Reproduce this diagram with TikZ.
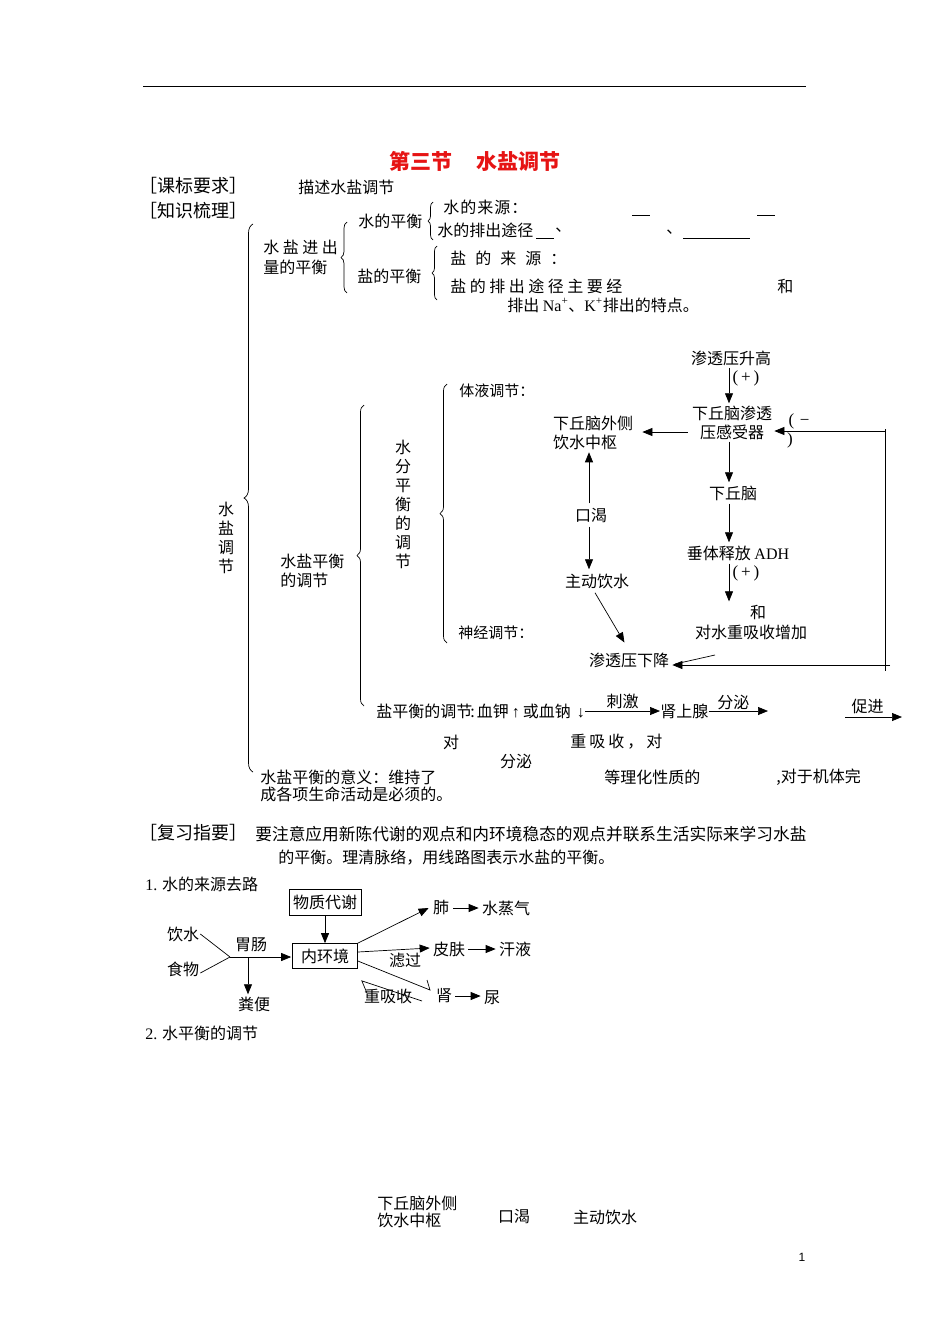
\documentclass[tikz,border=0pt]{standalone}
\usepackage{fontspec}
\setmainfont{Noto Sans CJK SC}
\newfontfamily\tnr{Liberation Serif}
\newfontfamily\lsans{Liberation Sans}
\usetikzlibrary{arrows.meta,decorations.pathreplacing}
\definecolor{titlered}{RGB}{230,20,20}
\newcommand\fsz{\fontsize{16}{19}\selectfont}
\begin{document}
\begin{tikzpicture}[x=1pt,y=-1pt,line width=0.7pt,
  txt/.style={inner sep=0pt,anchor=west,font=\fsz},
  ctr/.style={inner sep=0pt,font=\fsz},
  arr/.style={-{Triangle[length=10pt,width=8pt]}},
  brc/.style={decorate,decoration={brace,amplitude=#1}},
  bx/.style={draw,inner sep=0pt,font=\fsz}]
\fill[white] (0,0) rectangle (950,1344);
\useasboundingbox (0,0) rectangle (950,1344);
\draw[line width=0.8pt] (143,86) -- (806,86);
% title
\node[inner sep=0pt,font=\fontsize{21}{24}\selectfont\bfseries,text=titlered] (title) at (475,161) {第三节\hspace{24pt}水盐调节};
\node[txt,font=\fontsize{18}{20}\selectfont] (kbyq) at (139,186) {［课标要求］};
\node[txt] (msys) at (298,187) {描述水盐调节};
\node[txt,font=\fontsize{18}{20}\selectfont] (zssl) at (139,211) {［知识梳理］};
% big brace
\draw[brc=9pt] (253,772) -- (253,224);
\node[ctr,align=center] (vsltj) at (226,538) {水\\盐\\调\\节};
% water-salt in/out
\node[txt,align=left,font=\fontsize{16}{20}\selectfont] (sljc) at (263,257) {水\kern3.5pt 盐\kern3.5pt 进\kern3.5pt 出\\量的平衡};
\draw[brc=6pt] (347,293) -- (347,222);
\node[txt] (sdph) at (358,221) {水的平衡};
\draw[brc=5pt] (433,240) -- (433,202);
\node[txt] (sdly) at (443,207) {水\kern1pt 的\kern1pt 来\kern1pt 源\kern1pt ：};
\draw (632,215) -- (650,215);
\draw (757,215) -- (775,215);
\node[txt] (sdpc) at (437,230) {水的排出途径};
\draw (536,238) -- (554,238);
\node[txt] (dun1) at (555,230) {、};
\node[txt] (dun2) at (666,232) {、};
\draw (683,238) -- (750,238);
\node[txt] (yph) at (357,276) {盐的平衡};
\draw[brc=5pt] (437,300) -- (437,246);
\node[txt] (ydly) at (450,258) {盐\kern9pt 的\kern9pt 来\kern9pt 源\kern9pt ：};
\node[txt] (ydpc) at (450,286) {盐\kern3.5pt 的\kern3.5pt 排\kern3.5pt 出\kern3.5pt 途\kern3.5pt 径\kern3.5pt 主\kern3.5pt 要\kern3.5pt 经};
\node[txt] (he1) at (777,286) {和};
\node[txt] (pcna) at (507,305) {排出 {\tnr Na\textsuperscript{+}}、{\tnr K\textsuperscript{+}}排出的特点。};
% water-salt balance regulation
\draw[brc=7pt] (364,706) -- (364,405);
\node[txt,align=left] (slphtj) at (280,570.5) {水盐平衡\\的调节};
\node[ctr,align=center] (sfph) at (403,504) {水\\分\\平\\衡\\的\\调\\节};
\draw[brc=7pt] (447,643) -- (447,384);
\node[txt,font=\fontsize{15}{18}\selectfont] (tytj) at (459,391) {体液调节：};
\node[txt,font=\fontsize{15}{18}\selectfont] (sjtj) at (458,633) {神经调节：};
% flow chart
\coordinate (cR) at (729,0);
\coordinate (cL) at (589,0);
\node[ctr,inner sep=2pt] (stsg) at (731,358) {渗透压升高};
\node[ctr,inner sep=2pt,align=center] (sgq) at (732,422.5) {下丘脑渗透\\压感受器};
\node[ctr,inner sep=2pt,align=left] (wcz) at (593,433) {下丘脑外侧\\饮水中枢};
\node[ctr,inner sep=3pt] (xqn) at (733,493) {下丘脑};
\node[ctr,inner sep=3pt] (ctsf) at (738,553) {垂体释放 {\tnr ADH}};
\node[ctr,inner sep=3pt] (he2) at (758,612) {和};
\node[ctr] (dszxs) at (751,632) {对水重吸收增加};
\node[ctr,inner sep=4pt] (kk) at (591,515) {口渴};
\node[ctr,inner sep=4pt] (zdys) at (597,581) {主动饮水};
\node[ctr,inner sep=2pt] (stxj) at (629,660) {渗透压下降};
\node[ctr,font=\tnr\fontsize{17}{18}\selectfont] (p1) at (746,378) {(\,+\,)};
\node[ctr,font=\tnr\fontsize{17}{18}\selectfont] (p2) at (746,573) {(\,+\,)};
\node[ctr,font=\tnr\fontsize{17}{18}\selectfont] (mn1) at (799,421) {(\,\,−};
\node[ctr,font=\tnr\fontsize{17}{18}\selectfont] (mn2) at (790,440) {)};
\draw[arr] (stsg.south -| cR) -- (sgq.north -| cR);
\draw[arr,shorten <=2pt,shorten >=7pt] ([yshift=-9.5pt]sgq.west) -- ([yshift=-9.5pt]sgq.west -| wcz.east);
\draw[arr] (sgq.south -| cR) -- (xqn.north -| cR);
\draw[arr] (xqn.south -| cR) -- (ctsf.north -| cR);
\draw[arr] (ctsf.south -| cR) -- (he2.north -| cR);
\draw[arr] (kk.north -| cL) -- (wcz.south -| cL);
\draw[arr] (kk.south -| cL) -- (zdys.north -| cL);
\draw[arr,shorten >=9pt] ([xshift=-2pt]zdys.south) -- (stxj.north);
\coordinate (fbT) at (885,431);
\coordinate (fbB) at (885,665);
\coordinate (sl) at (715,655);
\coordinate (tipB) at (675,664);
\draw ([yshift=2pt]fbT) -- ([yshift=-6pt]fbB);
\draw[arr] (fbT) -- (fbT -| sgq.east);
\draw[arr,shorten >=1pt] ([xshift=5pt]fbB) -- (fbB -| stxj.east);
\draw (sl) -- (tipB);
% salt regulation
\node[txt] (yph2) at (376,711) {盐平衡的调节{\kern-2pt}:{\kern2pt}血钾{\tnr\kern3pt↑\kern3pt}或血钠{\tnr\kern6pt↓}};
\node[txt] (ssx) at (660,711) {肾上腺};
\coordinate (fe1) at (768,711);
\coordinate (c1) at (845,717);
\coordinate (c2) at (902,717);
\draw[arr] (yph2.east) -- node[midway,above=2pt,ctr]{刺激} (ssx.west);
\draw[arr] (ssx.east) -- node[midway,above=1pt,ctr,xshift=-5pt]{分泌} (fe1);
\draw[arr] (c1) -- node[midway,above=3pt,ctr,xshift=-6pt]{促进} (c2);
\node[ctr] (dui1) at (451,742) {对};
\node[txt] (cxs) at (570,742) {重\kern3pt 吸\kern3pt 收\kern3pt ，\kern3pt 对};
\node[ctr] (fm2) at (516,761) {分泌};
\node[txt] (yy1) at (260,777) {水盐平衡的意义：维持了};
\node[txt] (yy2) at (604,777) {等理化性质的};
\node[txt] (yy3) at (776,777) {,对于机体完};
\node[txt] (yy4) at (260,794) {成各项生命活动是必须的。};
% review
\node[txt,font=\fontsize{18}{20}\selectfont] (fxzy) at (139,833) {［复习指要］};
\node[txt,font=\fontsize{16.7}{19}\selectfont] (fx1) at (255,834) {要注意应用新陈代谢的观点和内环境稳态的观点并联系生活实际来学习水盐};
\node[txt] (fx2) at (278,858) {的平衡。理清脉络，用线路图表示水盐的平衡。};
\node[txt] (s1) at (145,884) {{\tnr 1.} 水的来源去路};
% diagram 1
\node[bx,minimum width=72pt,minimum height=26pt] (wzdx) at (325,902) {物质代谢};
\node[bx,minimum width=65pt,minimum height=25pt] (nhj) at (325,956) {内环境};
\node[ctr,inner sep=1pt] (ys) at (183,934) {饮水};
\node[ctr,inner sep=1pt] (sw) at (183,969) {食物};
\coordinate (jn) at (230,957);
\coordinate (jn2) at (248,957);
\node[ctr] (wc) at (251,945) {胃肠};
\node[ctr,inner sep=2pt] (fb) at (254,1004) {粪便};
\node[ctr,inner sep=4pt] (fei) at (441,908) {肺};
\node[ctr,inner sep=3pt] (szq) at (506,908) {水蒸气};
\node[ctr,inner sep=3pt] (pf) at (449,949) {皮肤};
\node[ctr,inner sep=3pt] (hy) at (515,949) {汗液};
\node[ctr] (lg) at (405,960) {滤过};
\node[ctr,inner sep=3pt] (shen) at (444,996) {肾};
\node[ctr,inner sep=3pt] (niao) at (492,998) {尿};
\node[ctr] (cxs2) at (388,996) {重吸收};
\draw[arr] (wzdx.south) -- (nhj.north);
\draw (ys.east) -- (jn);
\draw ([yshift=-4pt]sw.east) -- (jn);
\draw[arr,shorten >=1pt] (jn) -- (nhj.west |- jn);
\draw[arr] (jn2) -- (jn2 |- fb.north);
\draw[arr] (nhj.north east) -- (fei.west);
\draw[arr] (fei.east) -- (szq.west);
\draw[arr] ([yshift=4pt]nhj.east) -- ([yshift=1pt]pf.west);
\draw[arr] (pf.east) -- (hy.west);
\draw[arr] (shen.east) -- (niao.west |- shen.east);
\coordinate (hA) at (430,990);
\coordinate (hB) at (422,1001);
\draw ([yshift=-5pt]nhj.east) -- (hA) -- ++(-3,-10);
\draw (hB) -- ([xshift=4pt,yshift=-12pt]nhj.south east) -- ++(5,12);
\node[txt] (s2) at (145,1033) {{\tnr 2.} 水平衡的调节};
% bottom
\node[txt,align=left,font=\fontsize{16}{17}\selectfont] (b1) at (377,1211.5) {下丘脑外侧\\饮水中枢};
\node[ctr] (b2) at (514,1216) {口渴};
\node[ctr] (b3) at (605,1217) {主动饮水};
\node[ctr,font=\lsans\fontsize{12}{14}\selectfont] (pg) at (802,1257) {1};
\end{tikzpicture}
\end{document}
